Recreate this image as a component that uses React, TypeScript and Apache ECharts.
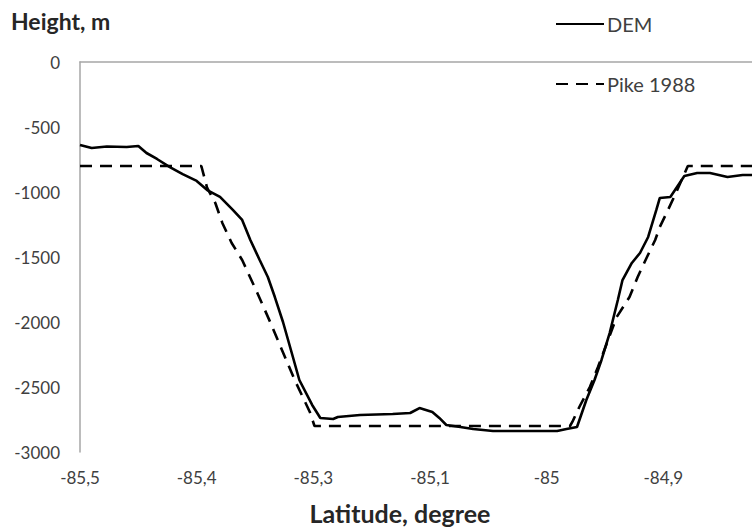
import React, { useEffect, useRef } from "react";
import * as echarts from "echarts";

// ---- data ----
const demLat = [
  -85.5, -85.49, -85.477, -85.46, -85.45, -85.443, -85.434, -85.423, -85.412, -85.4,
  -85.391, -85.38, -85.369, -85.361, -85.354, -85.346, -85.339, -85.333, -85.326, -85.318,
  -85.312, -85.301, -85.294, -85.283, -85.279, -85.26, -85.232, -85.217, -85.209, -85.198,
  -85.192, -85.186, -85.174, -85.163, -85.146, -85.091, -85.083, -85.074, -85.066, -85.059,
  -85.053, -85.046, -85.039, -85.035, -85.027, -85.02, -85.013, -85.006, -85.003, -84.994,
  -84.99, -84.982, -84.971, -84.96, -84.945, -84.932, -84.924,
];
const demHeight = [
  -638, -662, -650, -654, -646, -700, -746, -808, -862, -915,
  -985, -1038, -1138, -1215, -1369, -1523, -1654, -1808, -2000, -2254,
  -2446, -2638, -2738, -2746, -2731, -2715, -2708, -2700, -2662, -2692,
  -2738, -2792, -2808, -2823, -2838, -2838, -2823, -2808, -2600, -2446,
  -2292, -2085, -1831, -1677, -1546, -1469, -1346, -1138, -1046, -1038,
  -985, -877, -854, -854, -885, -869, -869,
];
const pikeLat = [
  -85.5, -85.396, -85.391, -85.384, -85.378, -85.37, -85.361, -85.348, -85.337, -85.316,
  -85.303, -85.299, -85.08, -85.078, -85.072, -85.063, -85.056, -85.04, -85.029, -85.022,
  -85.014, -85.007, -85.003, -84.996, -84.99, -84.979, -84.924,
];
const pikeHeight = [
  -800, -800, -969, -1085, -1238, -1392, -1523, -1777, -2000, -2446,
  -2692, -2800, -2800, -2769, -2654, -2500, -2346, -1962, -1808, -1654,
  -1500, -1369, -1269, -1138, -1023, -800, -800,
];
const xTickLabels = ["-85,5", "-85,4", "-85,3", "-85,1", "-85", "-84,9"];
const yTicks = [0, -500, -1000, -1500, -2000, -2500, -3000];

const X_MIN = -85.5;
const X_MAX = -84.924;
const X_STEP = 0.1;
const FONT = "Lato, 'Open Sans', sans-serif";

export default function App() {
  const ref = useRef<HTMLDivElement>(null);
  useEffect(() => {
    if (!ref.current) return;
    const chart = echarts.init(ref.current, undefined, { renderer: "svg" });
    const dem = demLat.map((x, i) => [x, demHeight[i]]);
    const pike = pikeLat.map((x, i) => [x, pikeHeight[i]]);
    chart.setOption({
      animation: false,
      backgroundColor: "#ffffff",
      textStyle: { fontFamily: FONT },
      title: {
        text: "Height, m",
        left: 6,
        top: 4,
        textStyle: { fontFamily: FONT, fontSize: 23, fontWeight: "bold", color: "#262626" },
      },
      graphic: [
        {
          type: "text",
          x: 400,
          y: 513,
          style: {
            text: "Latitude, degree",
            fontFamily: FONT,
            fontSize: 25,
            fontWeight: "bold",
            fill: "#262626",
            align: "center",
            verticalAlign: "middle",
          },
        },
      ],
      legend: {
        orient: "vertical",
        left: 550,
        top: 9,
        itemWidth: 48,
        itemHeight: 20,
        itemGap: 40,
        itemStyle: { opacity: 0 },
        textStyle: { fontFamily: FONT, fontSize: 20, color: "#404040", padding: [0, 0, 0, -2] },
        data: ["DEM", "Pike 1988"],
      },
      grid: { left: 80, right: 0, top: 62, bottom: 79, containLabel: false },
      xAxis: {
        type: "value",
        min: X_MIN,
        max: X_MAX,
        interval: X_STEP,
        axisLine: { show: true, lineStyle: { color: "#a6a6a6", width: 1.5 } },
        axisTick: { show: false },
        splitLine: { show: false },
        axisLabel: {
          margin: 17,
          fontFamily: FONT,
          fontSize: 17,
          color: "#404040",
          showMaxLabel: false,
          formatter: (v: number) => {
            const i = Math.round((v - X_MIN) / X_STEP);
            if (Math.abs(v - (X_MIN + i * X_STEP)) > 1e-6) return "";
            return xTickLabels[i] ?? "";
          },
        },
      },
      yAxis: {
        type: "value",
        min: yTicks[yTicks.length - 1],
        max: yTicks[0],
        interval: 500,
        axisLine: { show: true, lineStyle: { color: "#a6a6a6", width: 1.5 } },
        axisTick: { show: false },
        splitLine: { show: false },
        axisLabel: {
          margin: 20,
          fontFamily: FONT,
          fontSize: 17,
          color: "#404040",
          formatter: (v: number) => String(v),
        },
      },
      series: [
        {
          name: "DEM",
          type: "line",
          data: dem,
          symbol: "none",
          color: "#000000",
          lineStyle: { color: "#000000", width: 2.6 },
          z: 3,
        },
        {
          name: "Pike 1988",
          type: "line",
          data: pike,
          symbol: "none",
          color: "#000000",
          lineStyle: { color: "#000000", width: 2.6, type: [12, 8] },
          z: 2,
        },
      ],
    });
    return () => chart.dispose();
  }, []);
  return (
    <div
      ref={ref}
      style={{ position: "fixed", left: 0, top: 0, width: 752, height: 531, background: "#fff" }}
    />
  );
}
